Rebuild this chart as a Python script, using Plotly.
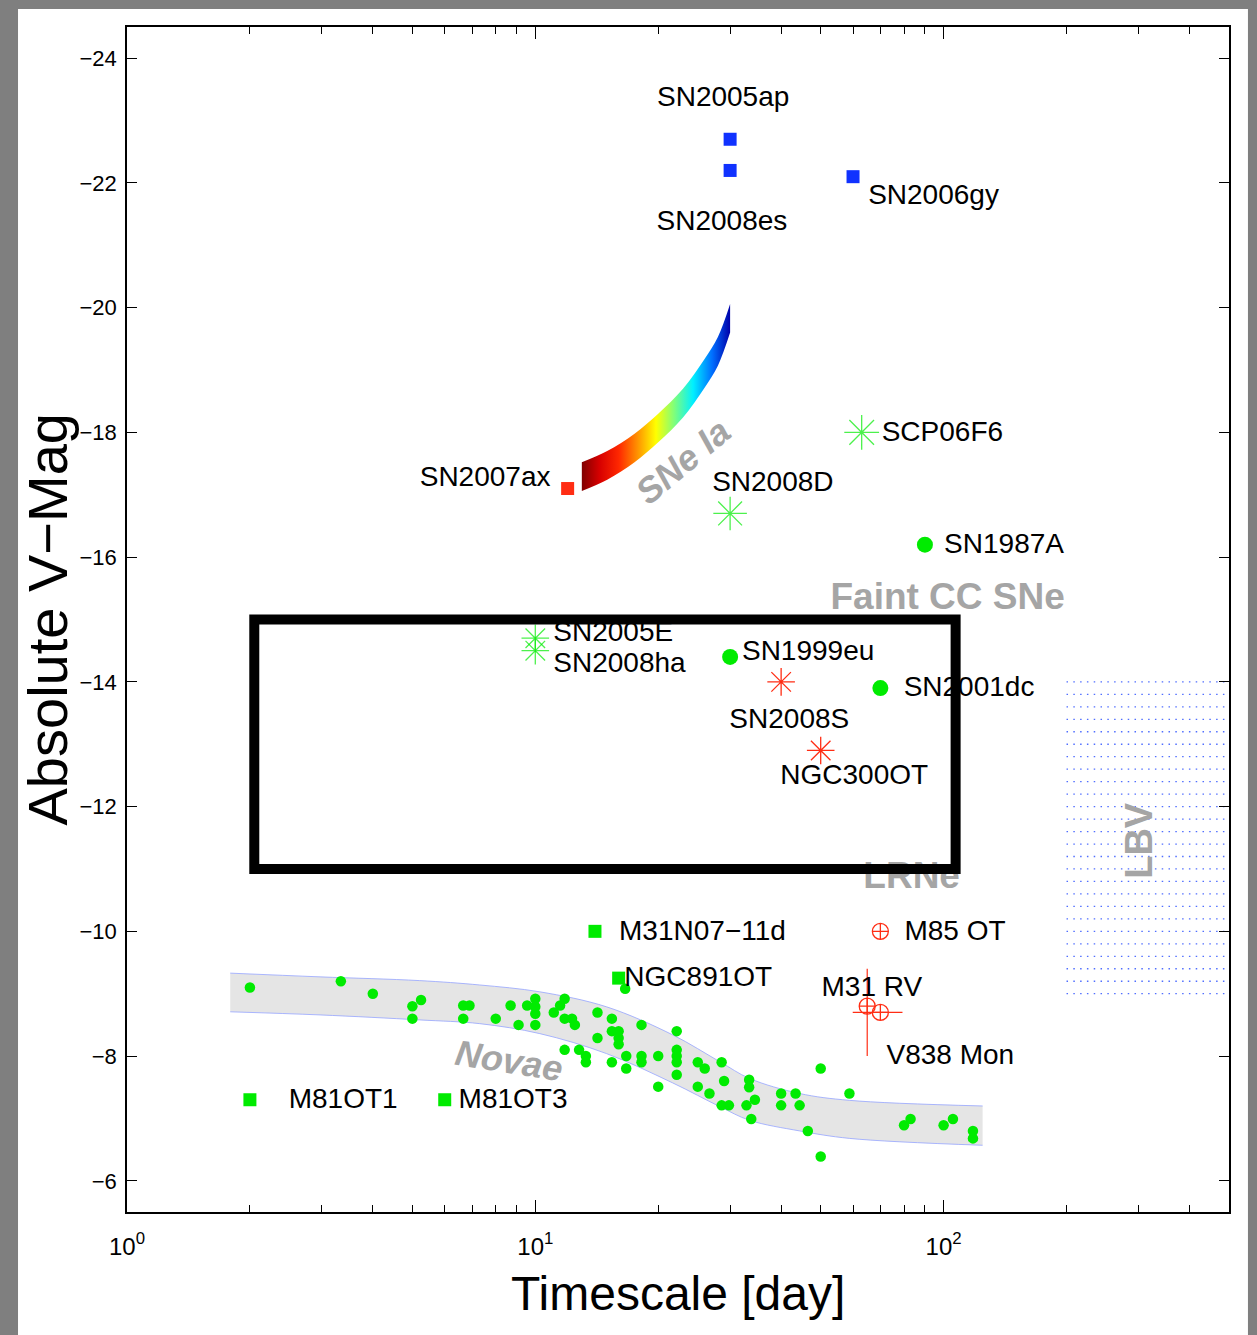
import numpy as np
import plotly.graph_objects as go

# ---------------- data (timescale in days, absolute V magnitude) ----------------
bright_names = ["SN2005ap", "SN2008es", "SN2006gy"]
bright_t = [30, 30, 60]
bright_mag = [-22.7, -22.2, -22.1]

iax_names = ["SN2007ax"]
iax_t = [12]
iax_mag = [-17.1]

# SNe Ia band (width-luminosity strip)
snia_t = [13, 15, 17.5, 20, 23, 26, 28, 30]
snia_bright = [-17.52, -17.70, -17.98, -18.30, -18.70, -19.18, -19.53, -20.06]
snia_faint = [-17.06, -17.24, -17.52, -17.84, -18.24, -18.72, -19.07, -19.60]

gstar_names = ["SCP06F6", "SN2008D", "SN2005E", "SN2008ha"]
gstar_t = [63, 30, 10, 10]
gstar_mag = [-18.0, -16.7, -14.7, -14.5]

rstar_names = ["SN2008S", "NGC300OT"]
rstar_t = [40, 50]
rstar_mag = [-14.0, -12.9]

cc_names = ["SN1987A", "SN1999eu", "SN2001dc"]
cc_t = [90, 30, 70]
cc_mag = [-16.2, -14.4, -13.9]

gsq_names = ["M31N07\u221211d", "NGC891OT", "M81OT1", "M81OT3"]
gsq_t = [14, 16, 2, 6]
gsq_mag = [-10.0, -9.25, -7.3, -7.3]

rv_names = ["M85 OT", "M31 RV", "V838 Mon"]
rv_t = [70, 65, 70]
rv_mag = [-10.0, -8.8, -8.7]
rv_err_mag_plus = [0, 0.8, 0]
rv_err_mag_minus = [0, 0.6, 0]
rv_err_t_plus = [0, 0, 9.3]
rv_err_t_minus = [0, 0, 10.1]

# Novae
nova_t = [2.0, 3.34, 4.0, 5.0, 5.25, 5.0, 6.66, 6.9, 6.66, 8.0, 8.7, 9.1, 9.55,
          10, 10, 10, 10, 11.1, 11.5, 11.8, 11.8, 12.3, 12.5, 11.8, 12.8, 13.3,
          13.3, 14.2, 14.2, 15.4, 15.4, 16.0, 16.0, 16.0, 15.4, 16.7, 16.7,
          18.2, 18.2, 18.2, 20.0, 20.0, 22.2, 22.2, 22.2, 22.2, 22.2, 25.0,
          26.0, 25.0, 26.7, 28.6, 29.0, 28.6, 29.8, 33.4, 33.4, 34.5, 32.9,
          33.8, 40, 40, 43.4, 44.4, 46.5, 50, 50, 58.8, 80, 83, 100, 105.4,
          118, 118, 16.6]
nova_mag = [-9.10, -9.20, -9.00, -8.80, -8.90, -8.60, -8.81, -8.81, -8.60, -8.60,
            -8.81, -8.50, -8.81, -8.92, -8.79, -8.68, -8.50, -8.70, -8.81, -8.92,
            -8.60, -8.60, -8.50, -8.10, -8.10, -8.00, -7.90, -8.70, -8.29, -8.60,
            -8.40, -8.40, -8.29, -8.19, -7.90, -8.00, -7.80, -8.50, -8.00, -7.90,
            -8.00, -7.51, -8.40, -8.10, -8.00, -7.90, -7.70, -7.90, -7.80, -7.51,
            -7.40, -7.90, -7.60, -7.21, -7.21, -7.62, -7.50, -7.30, -7.21, -6.99,
            -7.40, -7.21, -7.40, -7.21, -6.80, -7.80, -6.39, -7.40, -6.89, -6.99,
            -6.89, -6.99, -6.80, -6.68, -9.08]

# Novae band
nova_band_t = [1.79, 2.97, 5.21, 7.31, 10.26, 14.94, 21.7, 28.3, 33.5, 44.4, 58.9, 124.6]
nova_band_bright = [-9.33, -9.27, -9.21, -9.14, -9.03, -8.79, -8.34, -7.91, -7.64, -7.40, -7.29, -7.20]
nova_band_faint = [-8.71, -8.66, -8.58, -8.52, -8.36, -8.04, -7.57, -7.19, -6.97, -6.80, -6.68, -6.57]

# LBV region (dotted hatching)
lbv_t = [200, 500]
lbv_mag = [-14.0, -13.8, -13.6, -13.4, -13.2, -13.0, -12.8, -12.6, -12.4, -12.2,
           -12.0, -11.8, -11.6, -11.4, -11.2, -11.0, -10.8, -10.6, -10.4, -10.2,
           -10.0, -9.8, -9.6, -9.4, -9.2, -9.0]

# Highlighted box
box_t = [2.05, 107]
box_mag = [-15.0, -11.0]

xtick_vals = [1, 10, 100]
xtick_text = ["10<sup>0</sup>", "10<sup>1</sup>", "10<sup>2</sup>"]
ytick_vals = [-24, -22, -20, -18, -16, -14, -12, -10, -8, -6]

# ---------------- style ----------------
GREEN = "rgb(0,235,0)"
BLUE = "rgb(16,50,255)"
RED = "rgb(255,45,20)"
GRAY_TXT = "rgb(165,165,165)"
FONT = "Liberation Sans"

# label offsets: (decades in t, magnitudes, textposition)
LABEL_OFFSETS = {
    "SN2005ap": (-0.017, -0.64, "middle center"),
    "SN2008es": (-0.020, 0.84, "middle center"),
    "SN2006gy": (0.037, 0.32, "middle right"),
    "SN2007ax": (-0.042, -0.16, "middle left"),
    "SCP06F6": (0.049, 0.02, "middle right"),
    "SN2008D": (-0.044, -0.48, "middle right"),
    "SN2005E": (0.044, -0.06, "middle right"),
    "SN2008ha": (0.044, 0.23, "middle right"),
    "SN1987A": (0.047, 0.02, "middle right"),
    "SN1999eu": (0.029, -0.06, "middle right"),
    "SN2001dc": (0.057, 0.02, "middle right"),
    "SN2008S": (0.020, 0.63, "middle center"),
    "NGC300OT": (0.082, 0.43, "middle center"),
    "M31N07\u221211d": (0.059, 0.02, "middle right"),
    "NGC891OT": (0.014, 0.02, "middle right"),
    "M81OT1": (0.095, 0.02, "middle right"),
    "M81OT3": (0.034, 0.02, "middle right"),
    "M85 OT": (0.059, 0.02, "middle right"),
    "M31 RV": (-0.112, -0.28, "middle right"),
    "V838 Mon": (0.015, 0.71, "middle right"),
}

fig = go.Figure()

# Novae band
fig.add_trace(go.Scatter(x=nova_band_t, y=nova_band_faint, mode="lines",
                         line=dict(color="rgb(150,165,255)", width=0.8, shape="spline"),
                         hoverinfo="skip", showlegend=False))
fig.add_trace(go.Scatter(x=nova_band_t, y=nova_band_bright, mode="lines", fill="tonexty",
                         fillcolor="rgb(229,229,229)",
                         line=dict(color="rgb(150,165,255)", width=0.8, shape="spline"),
                         hoverinfo="skip", showlegend=False))

# LBV dotted hatching
lx, ly = [], []
for m in lbv_mag:
    lx += [lbv_t[0], lbv_t[1], None]
    ly += [m, m, None]
fig.add_trace(go.Scatter(x=lx, y=ly, mode="lines",
                         line=dict(color="rgb(80,110,255)", width=1.3, dash="1.5px,5.3px"),
                         hoverinfo="skip", showlegend=False))

# SNe Ia band with jet-like gradient
SNIA_SCALE = [[0.0, "rgb(128,0,0)"], [0.12, "rgb(215,0,0)"], [0.25, "rgb(255,40,0)"],
              [0.38, "rgb(255,150,0)"], [0.5, "rgb(255,255,0)"], [0.62, "rgb(130,255,120)"],
              [0.75, "rgb(0,240,255)"], [0.88, "rgb(0,110,255)"], [1.0, "rgb(0,0,170)"]]
fig.add_trace(go.Scatter(x=snia_t, y=snia_faint, mode="lines",
                         line=dict(width=0, shape="spline", color="rgba(0,0,0,0)"),
                         hoverinfo="skip", showlegend=False))
fig.add_trace(go.Scatter(x=snia_t, y=snia_bright, mode="lines", fill="tonexty",
                         fillgradient=dict(type="horizontal", colorscale=SNIA_SCALE),
                         line=dict(width=0, shape="spline", color="rgba(0,0,0,0)"),
                         hoverinfo="skip", showlegend=False))

# Novae points
fig.add_trace(go.Scatter(x=nova_t, y=nova_mag, mode="markers",
                         marker=dict(symbol="circle", size=10.5, color=GREEN, line=dict(width=0)),
                         showlegend=False))

# Other objects
fig.add_trace(go.Scatter(x=bright_t, y=bright_mag, mode="markers",
                         marker=dict(symbol="square", size=13, color=BLUE, line=dict(width=0)),
                         showlegend=False))
fig.add_trace(go.Scatter(x=iax_t, y=iax_mag, mode="markers",
                         marker=dict(symbol="square", size=13, color=RED, line=dict(width=0)),
                         showlegend=False))
fig.add_trace(go.Scatter(x=gsq_t, y=gsq_mag, mode="markers",
                         marker=dict(symbol="square", size=13, color=GREEN, line=dict(width=0)),
                         showlegend=False))
fig.add_trace(go.Scatter(x=cc_t, y=cc_mag, mode="markers",
                         marker=dict(symbol="circle", size=16, color=GREEN, line=dict(width=0)),
                         showlegend=False))
star_sizes = [29, 28, 23, 23]
fig.add_trace(go.Scatter(x=gstar_t, y=gstar_mag, mode="markers",
                         marker=dict(symbol="asterisk-open", size=star_sizes, color=GREEN,
                                     line=dict(color=GREEN, width=1.3)),
                         showlegend=False))
fig.add_trace(go.Scatter(x=rstar_t, y=rstar_mag, mode="markers",
                         marker=dict(symbol="asterisk-open", size=23, color=RED,
                                     line=dict(color=RED, width=1.3)),
                         showlegend=False))
fig.add_trace(go.Scatter(x=rv_t, y=rv_mag, mode="markers",
                         marker=dict(symbol="circle-cross-open", size=16, color=RED,
                                     line=dict(color=RED, width=1.3)),
                         error_y=dict(type="data", array=rv_err_mag_plus, arrayminus=rv_err_mag_minus,
                                      color=RED, thickness=1.2, width=0),
                         error_x=dict(type="data", array=rv_err_t_plus, arrayminus=rv_err_t_minus,
                                      color=RED, thickness=1.2, width=0),
                         showlegend=False))

# Object labels (text traces so that the box is drawn over them)
all_names = bright_names + iax_names + gstar_names + cc_names + rstar_names + gsq_names + rv_names
all_t = bright_t + iax_t + gstar_t + cc_t + rstar_t + gsq_t + rv_t
all_mag = bright_mag + iax_mag + gstar_mag + cc_mag + rstar_mag + gsq_mag + rv_mag
lab_x, lab_y, lab_pos = [], [], []
for n, t, m in zip(all_names, all_t, all_mag):
    dl, dm, pos = LABEL_OFFSETS[n]
    lab_x.append(t * 10 ** dl)
    lab_y.append(m + dm)
    lab_pos.append(pos)
fig.add_trace(go.Scatter(x=lab_x, y=lab_y, mode="text", text=all_names, textposition=lab_pos,
                         textfont=dict(family=FONT, size=28, color="black"),
                         hoverinfo="skip", showlegend=False))

# Region labels under the box
fig.add_trace(go.Scatter(x=[102.3, 83.5], y=[-15.31, -10.84], mode="text",
                         text=["Faint CC SNe", "LRNe"], textposition="middle center",
                         textfont=dict(family=FONT, size=37, color=GRAY_TXT, weight="bold"),
                         hoverinfo="skip", showlegend=False))

# Box (shape coordinates on a log axis are given in data units)
fig.add_shape(type="rect", xref="x", yref="y",
              x0=box_t[0], x1=box_t[1], y0=box_mag[0], y1=box_mag[1],
              line=dict(color="black", width=10), fillcolor="rgba(0,0,0,0)", layer="above")

# White page
fig.add_shape(type="rect", xref="paper", yref="paper", x0=-0.0989, x1=1.0172,
              y0=-0.1038, y1=1.0152, fillcolor="white", line=dict(width=0), layer="below")

annos = [
    dict(x=np.log10(22.97), y=-17.53, xref="x", yref="y", text="SNe Ia", textangle=-40,
         font=dict(family=FONT, size=36, color=GRAY_TXT, weight="bold", style="italic")),
    dict(x=np.log10(8.61), y=-7.93, xref="x", yref="y", text="Novae", textangle=9,
         font=dict(family=FONT, size=36, color=GRAY_TXT, weight="bold", style="italic")),
    dict(x=np.log10(301.9), y=-11.46, xref="x", yref="y", text="LBV", textangle=-90,
         font=dict(family=FONT, size=38, color=GRAY_TXT, weight="bold")),
    dict(x=-0.0717, y=0.5, xref="paper", yref="paper", text="Absolute V\u2212Mag", textangle=-90,
         font=dict(family=FONT, size=56, color="black")),
    dict(x=0.5, y=-0.0684, xref="paper", yref="paper", text="Timescale [day]",
         font=dict(family=FONT, size=48, color="black")),
]
for a in annos:
    a.update(showarrow=False, xanchor="center", yanchor="middle")

minor_vals = [k * 10 ** d for d in range(3) for k in range(2, 10) if k * 10 ** d <= 500]

fig.update_layout(
    width=1257, height=1335, autosize=False,
    margin=dict(l=127, r=28, t=27, b=123),
    paper_bgcolor="rgb(127,127,127)", plot_bgcolor="white",
    annotations=annos,
    xaxis=dict(type="log", range=[0, np.log10(500)], tickmode="array",
               tickvals=xtick_vals, ticktext=xtick_text,
               ticks="inside", ticklen=12, tickwidth=1.2, tickcolor="black",
               showline=True, linecolor="black", linewidth=1.5, mirror="ticks",
               showgrid=False, zeroline=False, ticklabelstandoff=12,
               tickfont=dict(family=FONT, size=24, color="black"),
               minor=dict(tickmode="array", tickvals=minor_vals, ticks="inside",
                          ticklen=7, tickwidth=1, tickcolor="black", showgrid=False)),
    yaxis=dict(range=[-5.5, -24.5], tickmode="array", tickvals=ytick_vals,
               ticks="inside", ticklen=10, tickwidth=1.2, tickcolor="black",
               showline=True, linecolor="black", linewidth=1.5, mirror="ticks",
               showgrid=False, zeroline=False, ticklabelstandoff=4,
               tickfont=dict(family=FONT, size=22, color="black")),
)

fig.write_html("out.html")
